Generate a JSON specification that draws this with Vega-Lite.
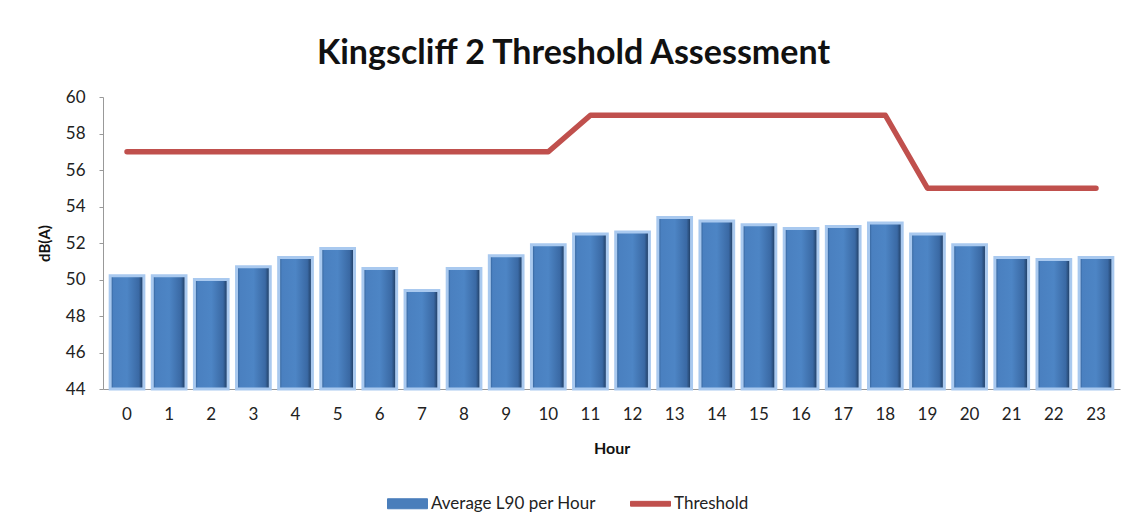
{
  "$schema": "https://vega.github.io/schema/vega-lite/v6.json",
  "autosize": "none",
  "width": 1017,
  "height": 292,
  "padding": {"left": 103, "top": 97, "right": 19, "bottom": 143},
  "background": "white",
  "config": {
    "font": "Lato",
    "view": {"stroke": null},
    "axis": {"labelFont": "Lato", "titleFont": "Lato", "labelColor": "#222", "titleColor": "#111", "domainColor": "#999", "tickColor": "#999"}
  },
  "title": {
    "text": "Kingscliff 2 Threshold Assessment",
    "font": "Lato",
    "fontSize": 34,
    "fontWeight": "bold",
    "color": "#111",
    "anchor": "middle",
    "dx": -38,
    "offset": 17
  },
  "datasets": {
    "levels": [
      {"Hour": "0", "L90": 50.2, "Threshold": 57},
      {"Hour": "1", "L90": 50.2, "Threshold": 57},
      {"Hour": "2", "L90": 50.0, "Threshold": 57},
      {"Hour": "3", "L90": 50.7, "Threshold": 57},
      {"Hour": "4", "L90": 51.2, "Threshold": 57},
      {"Hour": "5", "L90": 51.7, "Threshold": 57},
      {"Hour": "6", "L90": 50.6, "Threshold": 57},
      {"Hour": "7", "L90": 49.4, "Threshold": 57},
      {"Hour": "8", "L90": 50.6, "Threshold": 57},
      {"Hour": "9", "L90": 51.3, "Threshold": 57},
      {"Hour": "10", "L90": 51.9, "Threshold": 57},
      {"Hour": "11", "L90": 52.5, "Threshold": 59},
      {"Hour": "12", "L90": 52.6, "Threshold": 59},
      {"Hour": "13", "L90": 53.4, "Threshold": 59},
      {"Hour": "14", "L90": 53.2, "Threshold": 59},
      {"Hour": "15", "L90": 53.0, "Threshold": 59},
      {"Hour": "16", "L90": 52.8, "Threshold": 59},
      {"Hour": "17", "L90": 52.9, "Threshold": 59},
      {"Hour": "18", "L90": 53.1, "Threshold": 59},
      {"Hour": "19", "L90": 52.5, "Threshold": 55},
      {"Hour": "20", "L90": 51.9, "Threshold": 55},
      {"Hour": "21", "L90": 51.2, "Threshold": 55},
      {"Hour": "22", "L90": 51.1, "Threshold": 55},
      {"Hour": "23", "L90": 51.2, "Threshold": 55}
    ]
  },
  "data": {"name": "levels"},
  "encoding": {
    "x": {
      "field": "Hour",
      "type": "ordinal",
      "sort": null,
      "scale": {"paddingInner": 0.2, "paddingOuter": 0.17},
      "axis": {
        "title": "Hour",
        "titleFontSize": 16,
        "titleFontWeight": "bold",
        "titlePadding": 18,
        "labelAngle": 0,
        "labelFontSize": 17,
        "labelPadding": 17,
        "ticks": false,
        "domain": true
      }
    }
  },
  "layer": [
    {
      "mark": {
        "type": "bar",
        "fill": {
          "gradient": "linear",
          "x1": 0, "x2": 1, "y1": 0, "y2": 0,
          "stops": [
            {"offset": 0, "color": "#2b5689"},
            {"offset": 0.1, "color": "#4a80c0"},
            {"offset": 0.5, "color": "#4d85c5"},
            {"offset": 0.85, "color": "#3a69a4"},
            {"offset": 1, "color": "#1a3353"}
          ]
        },
        "stroke": "#a9c9ef",
        "strokeWidth": 3
      },
      "encoding": {
        "y": {
          "field": "L90",
          "type": "quantitative",
          "scale": {"domain": [44, 60], "nice": false, "zero": false},
          "axis": {
            "title": "dB(A)",
            "titleFontSize": 15,
            "titleFontWeight": "bold",
            "titlePadding": 13,
            "values": [44, 46, 48, 50, 52, 54, 56, 58, 60],
            "labelOverlap": false,
            "labelFontSize": 17,
            "labelPadding": 14,
            "tickSize": 4,
            "grid": false
          }
        },
        "y2": {"datum": 44}
      }
    },
    {
      "mark": {"type": "line", "strokeWidth": 5.5, "strokeCap": "round", "strokeJoin": "round"},
      "encoding": {
        "y": {
          "field": "Threshold",
          "type": "quantitative",
          "scale": {"domain": [44, 60], "nice": false, "zero": false},
          "axis": {
            "title": "dB(A)",
            "titleFontSize": 15,
            "titleFontWeight": "bold",
            "titlePadding": 13,
            "values": [44, 46, 48, 50, 52, 54, 56, 58, 60],
            "labelOverlap": false,
            "labelFontSize": 17,
            "labelPadding": 14,
            "tickSize": 4,
            "grid": false
          }
        },
        "color": {
          "datum": "Threshold",
          "scale": {"domain": ["Average L90 per Hour", "Threshold"], "range": ["#4a7ebb", "#c0504d"]},
          "legend": {
            "title": null,
            "orient": "none",
            "direction": "horizontal",
            "legendX": 284,
            "legendY": 386,
            "labelFont": "Lato",
            "labelFontSize": 17,
            "labelColor": "#222",
            "labelLimit": 400,
            "labelOffset": 3,
            "columnPadding": 32,
            "symbolSize": 1600,
            "symbolType": "M-1,-0.25H1V0.25H-1Z",
            "encode": {
              "symbols": {
                "update": {
                  "shape": {"signal": "datum.value === 'Threshold' ? 'M-1,-0.12H1V0.12H-1Z' : 'M-1,-0.25H1V0.25H-1Z'"},
                  "fill": {"signal": "datum.value === 'Threshold' ? '#c0504d' : '#4a7ebb'"},
                  "stroke": {"signal": "datum.value === 'Threshold' ? '#c0504d' : '#24446c'"},
                  "strokeWidth": {"value": 1},
                  "opacity": {"value": 1}
                }
              }
            }
          }
        }
      }
    }
  ]
}
